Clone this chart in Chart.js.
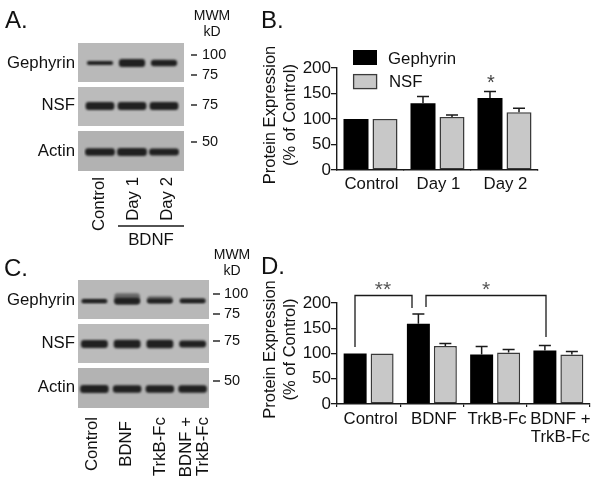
<!DOCTYPE html>
<html><head><meta charset="utf-8">
<script src="https://cdn.jsdelivr.net/npm/chart.js@4/dist/chart.umd.min.js"></script>
<style>
html,body{margin:0;padding:0;background:#fff;width:601px;height:482px;overflow:hidden}
canvas{position:absolute}
svg{position:absolute;left:0;top:0;pointer-events:none}
svg text{font-family:"Liberation Sans",Arial,sans-serif;fill:#111;dominant-baseline:central}
</style></head><body>
<div id="stage"></div>
<svg id="ov" width="601" height="482"></svg>
<script>
// ---- data: bar panels ----
const seriesNames = ["Gephyrin", "NSF"];
const yTicksLabels = [0, 50, 100, 150, 200];
const axisTitle = ["Protein Expression", "(% of Control)"];

const catsB = ["Control", "Day 1", "Day 2"];
const gephyrinB = [100, 131, 141];
const gephyrinErrB = [0, 13, 13];
const nsfB = [100, 104, 113];
const nsfErrB = [0, 4, 8];

const catsD = ["Control", "BDNF", "TrkB-Fc", ["BDNF +", "TrkB-Fc"]];
const gephyrinD = [100, 159, 98, 106];
const gephyrinErrD = [0, 19, 16, 10];
const nsfD = [100, 115, 102, 98];
const nsfErrD = [0, 5, 6, 6];

// ---- data: blot band thickness per lane ----
const lanesA = ["Control", "Day 1", "Day 2"];
const lanesC = ["Control", "BDNF", "TrkB-Fc", "BDNF + TrkB-Fc"];
const bandsAGephyrin = [4, 8, 6.5];
const bandsANsf = [8, 8, 8];
const bandsAActin = [7.5, 8, 7];
const bandsCGephyrin = [4, 6.5, 4.5, 4];
const smearCGephyrin = [3, 11, 7, 5];
const bandsCNsf = [8, 8.5, 8.5, 7];
const bandsCActin = [8, 7.5, 7.5, 7.5];

const FONT = '"Liberation Sans", Arial, sans-serif';
const INK = '#111';
const stage = document.getElementById('stage');

function mkCanvas(l, t, w, h) {
  const c = document.createElement('canvas');
  c.width = w; c.height = h;
  c.style.cssText = `left:${l}px;top:${t}px;width:${w}px;height:${h}px`;
  stage.appendChild(c);
  return c;
}

const errorBars = {
  id: 'errorBars',
  afterDatasetsDraw(chart) {
    const { ctx, scales: { y } } = chart;
    ctx.save();
    ctx.strokeStyle = '#1a1a1a';
    ctx.lineWidth = 1.5;
    chart.data.datasets.forEach((ds, i) => {
      const meta = chart.getDatasetMeta(i);
      ds.errors.forEach((e, j) => {
        if (!e) return;
        const bar = meta.data[j];
        const top = y.getPixelForValue(ds.data[j] + e);
        ctx.beginPath();
        ctx.moveTo(bar.x, bar.y);
        ctx.lineTo(bar.x, top);
        ctx.moveTo(bar.x - 6, top);
        ctx.lineTo(bar.x + 6, top);
        ctx.stroke();
      });
    });
    ctx.restore();
  }
};

function barChart(box, cats, g, gErr, n, nErr, geo) {
  new Chart(mkCanvas(box.l, box.t, box.w, box.h), {
    type: 'bar',
    plugins: [errorBars],
    data: {
      labels: cats,
      datasets: [
        { label: seriesNames[0], data: g, errors: gErr, backgroundColor: '#000', borderColor: '#000', borderWidth: 0 },
        { label: seriesNames[1], data: n, errors: nErr, backgroundColor: '#c8c8c8', borderColor: '#3a3a3a', borderWidth: 1.5, borderSkipped: false }
      ]
    },
    options: {
      responsive: false, animation: false, devicePixelRatio: 1,
      layout: { padding: { top: geo.top, right: geo.right, left: 0, bottom: 0 } },
      plugins: { legend: { display: false }, tooltip: { enabled: false } },
      datasets: { bar: { categoryPercentage: geo.cat, barPercentage: geo.bar } },
      scales: {
        x: {
          grid: { display: true, drawOnChartArea: false, drawTicks: true, tickLength: geo.xTick, color: '#1a1a1a', lineWidth: 1.2 },
          border: { color: '#1a1a1a', width: 1.4 },
          ticks: { color: INK, font: { family: FONT, size: 16.8, lineHeight: 1.05 }, padding: geo.xPad, labelOffset: geo.xOff, maxRotation: 0, autoSkip: false },
          afterFit(s) { s.height = geo.xh; }
        },
        y: {
          min: 0, max: 200,
          afterBuildTicks(s) { s.ticks = yTicksLabels.map(v => ({ value: v })); },
          grid: { display: true, drawOnChartArea: false, drawTicks: true, tickLength: 6, color: '#1a1a1a', lineWidth: 1.3 },
          border: { color: '#1a1a1a', width: 1.4 },
          ticks: { color: INK, font: { family: FONT, size: 17 }, padding: 0 },
          title: { display: true, text: axisTitle, color: INK, font: { family: FONT, size: 16.5, lineHeight: 1.2 }, padding: 0 },
          afterFit(s) {
            s.width = geo.yw;
            if (!s._shifted) {
              s._shifted = true;
              const orig = s.drawTitle;
              s.drawTitle = function () {
                const c = this.ctx; c.save(); c.translate(0, -4); orig.call(this); c.restore();
              };
            }
          }
        }
      }
    }
  });
}

barChart({ l: 261, t: 40, w: 300, h: 155 }, catsB, gephyrinB, gephyrinErrB, nsfB, nsfErrB,
  { top: 28, right: 23, xh: 25, yw: 76, cat: 0.866, bar: 0.862, xTick: 0, xPad: 6, xOff: 1 });
barChart({ l: 261, t: 270, w: 340, h: 180 }, catsD, gephyrinD, gephyrinErrD, nsfD, nsfErrD,
  { top: 33, right: 11, xh: 46, yw: 76, cat: 0.853, bar: 0.852, xTick: 3, xPad: 4, xOff: 2 });

// ---- blots: one small chart per strip, bands are floating bars ----
const blotPaint = {
  id: 'blotPaint',
  beforeDraw(chart, a, o) {
    const { ctx, width, height } = chart;
    ctx.save(); ctx.fillStyle = o.bg; ctx.fillRect(0, 0, width, height); ctx.restore();
  },
  beforeDatasetsDraw(chart) { chart.ctx.save(); chart.ctx.filter = 'blur(0.9px)'; },
  afterDatasetsDraw(chart) { chart.ctx.restore(); }
};

function blot(l, t, w, h, lanes, thick, pad, mid, bg, pct, smear) {
  const sets = [];
  if (smear) sets.push({
    data: smear.map((v, i) => [mid + thick[i] / 2 - v, mid + thick[i] / 2]),
    backgroundColor: 'rgba(40,40,40,0.55)', borderRadius: 3, borderSkipped: false,
    categoryPercentage: 1, barPercentage: pct, grouped: false, order: 2
  });
  sets.push({
    data: thick.map(v => [mid - v / 2, mid + v / 2]),
    backgroundColor: '#202020', borderRadius: 3, borderSkipped: false,
    categoryPercentage: 1, barPercentage: pct, grouped: false, order: 1
  });
  new Chart(mkCanvas(l, t, w, h), {
    type: 'bar',
    plugins: [blotPaint],
    data: { labels: lanes, datasets: sets },
    options: {
      responsive: false, animation: false, devicePixelRatio: 1,
      layout: { padding: { left: pad[0], right: pad[1], top: 0, bottom: 0 } },
      plugins: { legend: { display: false }, tooltip: { enabled: false }, blotPaint: { bg } },
      scales: {
        x: { display: false },
        y: { display: false, min: 0, max: h, reverse: true }
      }
    }
  });
}

const padA = [6, 4], padC = [0, 0];
blot(78, 43, 106, 39, lanesA, bandsAGephyrin, padA, 20, '#b9b9b9', 0.82);
blot(78, 87, 106, 39, lanesA, bandsANsf, padA, 19, '#bbbbbb', 0.9);
blot(78, 131, 106, 40, lanesA, bandsAActin, padA, 21, '#b2b2b2', 0.93);
blot(78, 280, 131, 39, lanesC, bandsCGephyrin, padC, 21, '#b8b8b8', 0.78, smearCGephyrin);
blot(78, 324, 131, 39, lanesC, bandsCNsf, padC, 20, '#bbbbbb', 0.82);
blot(78, 368, 131, 40, lanesC, bandsCActin, padC, 21, '#b3b3b3', 0.87);

// ---- overlay text and rules ----
const NS = 'http://www.w3.org/2000/svg';
const ov = document.getElementById('ov');
function text(s, x, y, size, anchor = 'start', rot = 0, fill) {
  const e = document.createElementNS(NS, 'text');
  e.textContent = s;
  e.setAttribute('x', x); e.setAttribute('y', y);
  e.setAttribute('font-size', size);
  e.setAttribute('text-anchor', anchor);
  if (rot) e.setAttribute('transform', `rotate(${rot} ${x} ${y})`);
  if (fill) e.style.fill = fill;
  ov.appendChild(e);
}
function path(d, w = 1.3, col = '#1a1a1a') {
  const e = document.createElementNS(NS, 'path');
  e.setAttribute('d', d); e.setAttribute('fill', 'none');
  e.setAttribute('stroke', col); e.setAttribute('stroke-width', w);
  ov.appendChild(e);
}
function rect(x, y, w, h, fill, stroke) {
  const e = document.createElementNS(NS, 'rect');
  e.setAttribute('x', x); e.setAttribute('y', y);
  e.setAttribute('width', w); e.setAttribute('height', h);
  e.setAttribute('fill', fill);
  if (stroke) { e.setAttribute('stroke', stroke); e.setAttribute('stroke-width', 1.3); }
  ov.appendChild(e);
}

// panel letters
text('A.', 5, 19, 24);
text('B.', 261, 19, 24);
text('C.', 4, 267, 24);
text('D.', 261, 265, 24);

// legend of B
rect(353, 50, 24, 15, '#000');
rect(353.6, 74.6, 23, 14, '#c8c8c8', '#3a3a3a');
text(seriesNames[0], 388, 58, 16.8);
text(seriesNames[1], 389, 81, 16.8);
text('*', 491, 82, 20, 'middle', 0, '#444');

// brackets of D
path('M355 347V295.5H412V308');
path('M426 307V295.5H546V337');
text('**', 383, 288, 21, 'middle', 0, '#555');
text('*', 486, 288, 21, 'middle', 0, '#555');

// blot row labels
[['Gephyrin', 62], ['NSF', 104], ['Actin', 150]].forEach(([s, y]) => text(s, 75, y, 16.8, 'end'));
[['Gephyrin', 299], ['NSF', 342], ['Actin', 386]].forEach(([s, y]) => text(s, 75, y, 16.8, 'end'));

// molecular weight markers
text('MWM', 212, 15, 14, 'middle'); text('kD', 212, 31, 14, 'middle');
text('MWM', 232, 254, 14, 'middle'); text('kD', 232, 270, 14, 'middle');
[['100', 54], ['75', 74], ['75', 104], ['50', 141]].forEach(([s, y]) => {
  path(`M191 ${y + 1}H197`, 1.4); text(s, 202, y, 14.5);
});
[['100', 293], ['75', 313], ['75', 340], ['50', 380]].forEach(([s, y]) => {
  path(`M213 ${y + 1}H220`, 1.4); text(s, 224, y, 14.5);
});

// rotated lane labels
[[lanesA[0], 98], [lanesA[1], 132], [lanesA[2], 166]].forEach(([s, x]) => text(s, x, 177, 16.8, 'end', -90));
path('M118 226H184');
text('BDNF', 151, 239, 16.8, 'middle');
text(lanesC[0], 91, 417, 16.8, 'end', -90);
text(lanesC[1], 125, 421, 16.8, 'end', -90);
text(lanesC[2], 159, 417, 16.8, 'end', -90);
text('BDNF +', 185, 417, 16.8, 'end', -90);
text('TrkB-Fc', 202, 417, 16.8, 'end', -90);
</script>
</body></html>
